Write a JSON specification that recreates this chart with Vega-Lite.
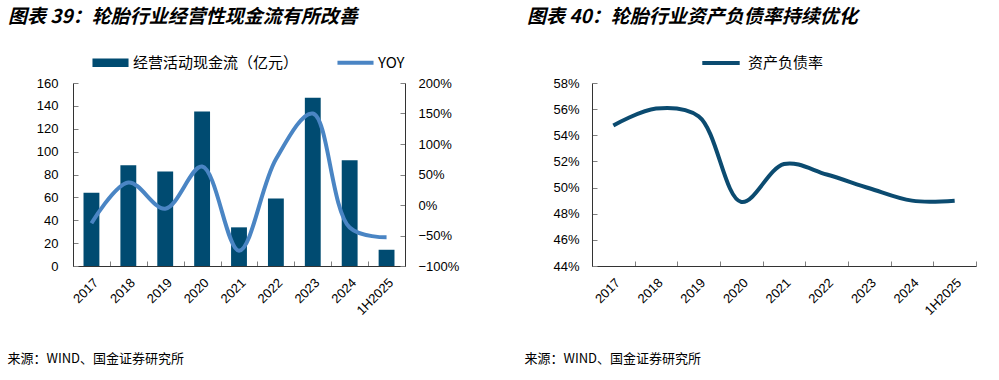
{
  "$schema": "https://vega.github.io/schema/vega-lite/v6.json",
  "background": "white",
  "padding": {"left": 7, "top": 8, "right": 0, "bottom": 0},
  "spacing": 65,
  "datasets": {
    "cash": [
      {"year": "2017", "cf": 64, "yoy": -0.30},
      {"year": "2018", "cf": 88, "yoy": 0.37},
      {"year": "2019", "cf": 82.7, "yoy": -0.06},
      {"year": "2020", "cf": 135, "yoy": 0.63},
      {"year": "2021", "cf": 33.8, "yoy": -0.75},
      {"year": "2022", "cf": 59, "yoy": 0.75},
      {"year": "2023", "cf": 147, "yoy": 1.50},
      {"year": "2024", "cf": 92.4, "yoy": -0.37},
      {"year": "1H2025", "cf": 14.2, "yoy": -0.53}
    ],
    "debt": [
      {"year": "2017", "ratio": 0.5475},
      {"year": "2018", "ratio": 0.5605},
      {"year": "2019", "ratio": 0.5545},
      {"year": "2020", "ratio": 0.489},
      {"year": "2021", "ratio": 0.518},
      {"year": "2022", "ratio": 0.510},
      {"year": "2023", "ratio": 0.4995},
      {"year": "2024", "ratio": 0.490},
      {"year": "1H2025", "ratio": 0.490}
    ]
  },
  "hconcat": [
    {
      "width": 332,
      "height": 183,
      "title": {"text": "图表 39：轮胎行业经营性现金流有所改善", "anchor": "start", "frame": "group", "dx": -65, "offset": 28, "font": "Noto Sans CJK SC", "fontSize": 19, "fontWeight": "bold", "fontStyle": "italic", "color": "#000000"},
      "data": {"name": "cash"},
      "encoding": {
        "x": {"field": "year", "type": "ordinal", "sort": null,
          "scale": {"paddingInner": 0, "paddingOuter": 0},
          "axis": {"labelAngle": -45, "tickBand": "extent", "labelPadding": 15,
            "title": "来源：WIND、国金证券研究所", "titleAnchor": "start", "titleAlign": "left", "titleX": -66, "titleY": 92, "titleBaseline": "middle", "titleAngle": 0,
            "titleFont": "Noto Sans CJK SC", "titleFontSize": 13, "titleFontWeight": "normal", "titleColor": "#000000"}}
      },
      "layer": [
        {
          "mark": {"type": "bar", "width": {"band": 0.43}},
          "encoding": {
            "y": {"field": "cf", "type": "quantitative", "scale": {"domain": [0, 160]},
              "axis": {"orient": "left", "title": null, "values": [0, 20, 40, 60, 80, 100, 120, 140, 160], "labelPadding": 20}},
            "color": {"datum": "经营活动现金流（亿元）",
              "scale": {"domain": ["经营活动现金流（亿元）", "YOY"], "range": ["#004B71", "#4A85C4"]},
              "legend": {"orient": "none", "legendX": 30, "legendY": -28, "title": null, "direction": "horizontal", "labelFont": "Noto Sans CJK SC", "labelFontSize": 15, "labelColor": "#000000", "labelLimit": 400,
                "symbolSize": 1300, "columnPadding": 30, "labelOffset": 15,
                "encode": {"symbols": {"update": {
                  "shape": {"signal": "datum.value === 'YOY' ? 'M-1,0H1' : 'M-1,-0.23H1V0.23H-1Z'"},
                  "fill": {"signal": "datum.value === 'YOY' ? 'transparent' : '#004B71'"},
                  "stroke": {"signal": "datum.value === 'YOY' ? '#4A85C4' : 'transparent'"},
                  "strokeWidth": {"signal": "datum.value === 'YOY' ? 4 : 0"}
                }}}}}
          }
        },
        {
          "mark": {"type": "line", "interpolate": "catmull-rom", "strokeWidth": 4},
          "encoding": {
            "y": {"field": "yoy", "type": "quantitative", "scale": {"domain": [-1, 2]},
              "axis": {"orient": "right", "title": null, "format": ".0%", "values": [-1, -0.5, 0, 0.5, 1, 1.5, 2], "labelPadding": 18}},
            "color": {"datum": "YOY"}
          }
        }
      ],
      "resolve": {"scale": {"y": "independent"}}
    },
    {
      "width": 384,
      "height": 183,
      "title": {"text": "图表 40：轮胎行业资产负债率持续优化", "anchor": "start", "frame": "group", "dx": -65, "offset": 15, "font": "Noto Sans CJK SC", "fontSize": 19, "fontWeight": "bold", "fontStyle": "italic", "color": "#000000"},
      "data": {"name": "debt"},
      "mark": {"type": "line", "interpolate": "catmull-rom", "strokeWidth": 4},
      "encoding": {
        "x": {"field": "year", "type": "ordinal", "sort": null,
          "scale": {"type": "band", "paddingInner": 0, "paddingOuter": 0},
          "axis": {"labelAngle": -45, "tickBand": "extent", "labelPadding": 15,
            "title": "来源：WIND、国金证券研究所", "titleAnchor": "start", "titleAlign": "left", "titleX": -68, "titleY": 92, "titleBaseline": "middle", "titleAngle": 0,
            "titleFont": "Noto Sans CJK SC", "titleFontSize": 13, "titleFontWeight": "normal", "titleColor": "#000000"}},
        "y": {"field": "ratio", "type": "quantitative", "scale": {"domain": [0.44, 0.58]},
          "axis": {"title": null, "format": ".0%", "values": [0.44, 0.46, 0.48, 0.5, 0.52, 0.54, 0.56, 0.58], "labelPadding": 18}},
        "color": {"datum": "资产负债率",
          "scale": {"domain": ["资产负债率"], "range": ["#0B4B70"]},
          "legend": {"orient": "none", "legendX": 108, "legendY": -41, "title": null, "labelFont": "Noto Sans CJK SC", "labelFontSize": 15, "labelColor": "#000000",
            "symbolType": "M-1,0H1", "symbolStrokeWidth": 4, "symbolSize": 1400, "labelOffset": 6}}
      }
    }
  ],
  "resolve": {"scale": {"color": "independent"}, "legend": {"color": "independent"}},
  "config": {
    "view": {"stroke": null},
    "axis": {"labelFont": "Liberation Sans", "labelFontSize": 13, "labelColor": "#000000", "domainColor": "#333333", "tickColor": "#808080", "tickSize": -5, "grid": false}
  }
}
